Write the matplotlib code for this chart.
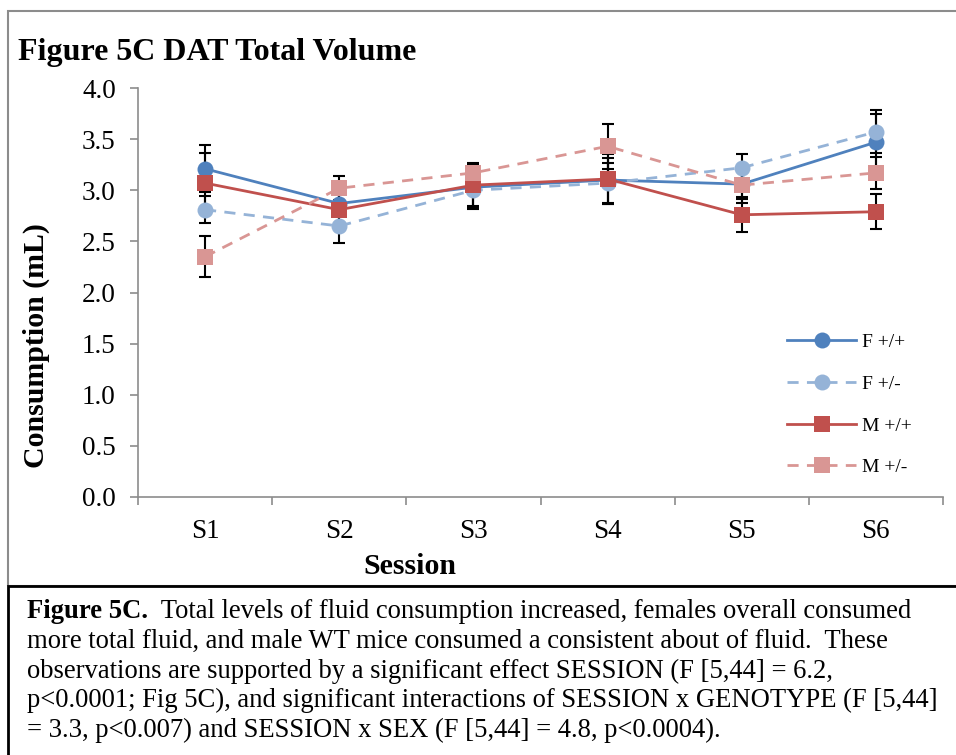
import matplotlib.pyplot as plt
from matplotlib.patches import Rectangle

plt.rcParams['font.family'] = ['Liberation Serif', 'DejaVu Serif']

# --- data
sessions = ['S1', 'S2', 'S3', 'S4', 'S5', 'S6']
labels = ['F +/+', 'F +/-', 'M +/+', 'M +/-']
f_wt = [3.21, 2.87, 3.03, 3.10, 3.06, 3.47]
f_het = [2.81, 2.65, 3.00, 3.07, 3.22, 3.57]
m_wt = [3.07, 2.81, 3.05, 3.11, 2.76, 2.79]
m_het = [2.35, 3.02, 3.17, 3.43, 3.05, 3.17]
f_wt_err = [0.23, 0.12, 0.20, 0.22, 0.15, 0.28]
f_het_err = [0.13, 0.17, 0.18, 0.20, 0.13, 0.21]
m_wt_err = [0.29, 0.15, 0.20, 0.24, 0.17, 0.17]
m_het_err = [0.20, 0.12, 0.10, 0.22, 0.17, 0.16]
yticks = [0.0, 0.5, 1.0, 1.5, 2.0, 2.5, 3.0, 3.5, 4.0]

caption = [
    "  Total levels of fluid consumption increased, females overall consumed",
    "more total fluid, and male WT mice consumed a consistent about of fluid.  These",
    "observations are supported by a significant effect SESSION (F [5,44] = 6.2,",
    "p<0.0001; Fig 5C), and significant interactions of SESSION x GENOTYPE (F [5,44]",
    "= 3.3, p<0.007) and SESSION x SEX (F [5,44] = 4.8, p<0.0004).",
]

W, H = 956, 755
fig = plt.figure(figsize=(W / 100, H / 100), dpi=100)

def fx(px):
    return px / W

def fy(py):
    return 1 - py / H

# outer boxes: gray chart frame, black caption frame
fig.patches.append(Rectangle((fx(8), fy(586)), fx(960) - fx(8), fy(11) - fy(586),
                             transform=fig.transFigure, fill=False,
                             edgecolor='#8c8c8c', linewidth=1.5))
fig.patches.append(Rectangle((fx(8), fy(760)), fx(960) - fx(8), fy(586) - fy(760),
                             transform=fig.transFigure, fill=False,
                             edgecolor='black', linewidth=2))

ax = fig.add_axes([fx(138), fy(497), fx(943) - fx(138), fy(88) - fy(497)])
x = list(range(len(sessions)))

series = [
    (f_wt, f_wt_err, '#4f81bd', '-', 'o'),
    (f_het, f_het_err, '#95b3d7', (0, (4, 3)), 'o'),
    (m_wt, m_wt_err, '#c0504d', '-', 's'),
    (m_het, m_het_err, '#d99694', (0, (4, 3)), 's'),
]
handles = []
for i, (vals, errs, col, ls, mk) in enumerate(series):
    ax.errorbar(x, vals, yerr=errs, fmt='none', ecolor='black', elinewidth=1.5,
                capsize=4.3, capthick=1.5, zorder=2)
    h, = ax.plot(x, vals, color=col, linestyle=ls, linewidth=2, marker=mk,
                 markersize=11.5, markeredgewidth=0, label=labels[i], zorder=3 + i)
    handles.append(h)

ax.set_xlim(-0.5, 5.5)
ax.set_ylim(0, 4.0)
ax.set_yticks(yticks)
ax.set_yticklabels(['%.1f' % v for v in yticks])
ax.set_xticks(x)
ax.set_xticklabels(sessions)
ax.set_xticks([v - 0.5 for v in range(len(sessions) + 1)], minor=True)
ax.tick_params(axis='x', which='major', length=0, pad=16, labelsize=19.5)
ax.tick_params(axis='x', which='minor', length=6, color='#8c8c8c', width=1.2)
ax.tick_params(axis='y', length=6, color='#8c8c8c', width=1.2, labelsize=19.5, pad=10)
for s in ['top', 'right']:
    ax.spines[s].set_visible(False)
for s in ['left', 'bottom']:
    ax.spines[s].set_color('#8c8c8c')
    ax.spines[s].set_linewidth(1.2)

ax.set_xlabel('Session', fontsize=21.5, fontweight='bold')
ax.xaxis.set_label_coords((410 - 138) / 805, -(553 - 497) / 409)
ax.set_ylabel('Consumption (mL)', fontsize=21.5, fontweight='bold')
ax.yaxis.set_label_coords((50 - 138) / 805, (497 - 346) / 409)

ax.legend(handles=handles, loc='upper left', bbox_to_anchor=(fx(769.5), fy(316)),
          bbox_transform=fig.transFigure, frameon=False, fontsize=14,
          handlelength=3.55, labelspacing=1.24, handletextpad=0.3)

fig.text(fx(18), fy(60), 'Figure 5C DAT Total Volume', fontsize=23,
         fontweight='bold', va='baseline', ha='left')

# caption, bold lead-in followed by the plain text
bold = fig.text(fx(27), fy(612), 'Figure 5C.', fontsize=19.2, fontweight='bold',
                va='center', ha='left')
ax.annotate(caption[0], xy=(1, 0), xycoords=bold, fontsize=19.2,
            va='bottom', ha='left', annotation_clip=False)
for i, line in enumerate(caption[1:]):
    fig.text(fx(27), fy(612 + 29.5 * (i + 1)), line, fontsize=19.2,
             va='center', ha='left')

fig.savefig('out.png', dpi=100)
